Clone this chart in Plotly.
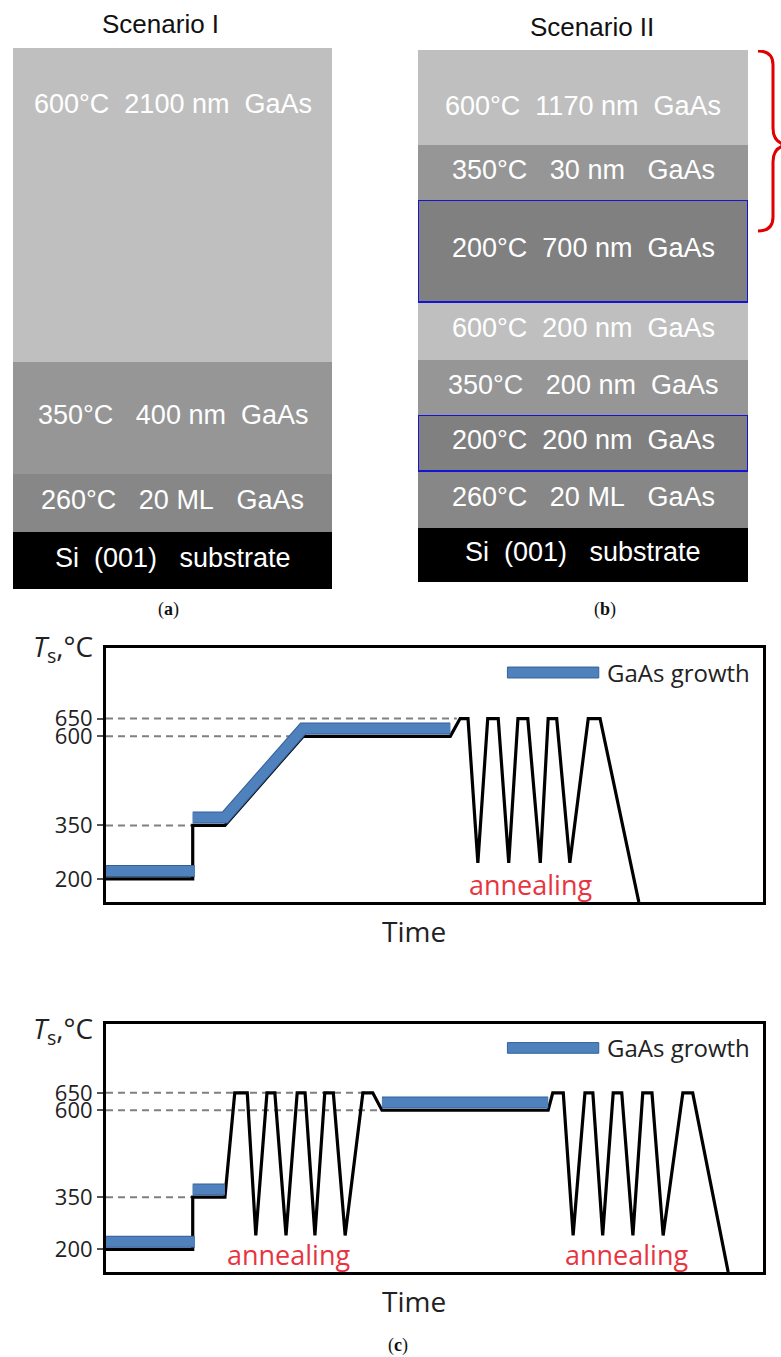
import plotly.graph_objects as go

W, H = 781, 1357

# ---------------- layer stacks (listed from the substrate upwards) ----------------
S1_LABELS = ["Si  (001)   substrate", "260°C   20 ML   GaAs",
             "350°C   400 nm  GaAs", "600°C  2100 nm  GaAs"]
S1_TEMPS = [None, 260, 350, 600]
S1_HEIGHTS = [57, 58, 112, 314]          # schematic layer heights (not to scale)

S2_LABELS = ["Si  (001)   substrate", "260°C   20 ML   GaAs",
             "200°C  200 nm  GaAs", "350°C   200 nm  GaAs",
             "600°C  200 nm  GaAs", "200°C  700 nm  GaAs",
             "350°C   30 nm   GaAs", "600°C  1170 nm  GaAs"]
S2_TEMPS = [None, 260, 200, 350, 600, 200, 350, 600]
S2_HEIGHTS = [54, 57, 56, 55, 58, 102, 55, 95]

# ---------------- substrate temperature profiles ----------------
TEMP_TICKS = [200, 350, 600, 650]
T_MIN, T_MAX = 135, 848

P1_TIME = [0, 13.2, 13.2, 18.1, 30.0, 52.4, 53.9, 55.1, 56.6, 58.1, 59.7, 61.3,
           62.7, 64.2, 66.1, 67.3, 68.6, 70.6, 73.4, 75.2, 81.1]
P1_TEMP = [200, 200, 350, 350, 600, 600, 650, 650, 245, 650, 650, 245,
           650, 650, 245, 650, 650, 245, 650, 650, 135]
G1_TIME = [0, 13.5, None, 13.2, 18.1, 30.0, 52.4]
G1_TEMP = [200, 200, None, 350, 350, 600, 600]
D1_LEVELS = [650, 600, 350]
D1_END = [53.4, 28.0, 13.2]
A1_TIME = [64.6]

P2_TIME = [0, 13.2, 13.2, 18.1, 19.6, 21.5, 22.8, 24.5, 25.7, 27.4, 29.1, 30.3,
           31.8, 33.3, 34.6, 36.4, 39.1, 40.6, 42.0, 67.3, 68.0, 69.6, 71.1,
           72.9, 74.1, 75.6, 77.2, 78.5, 80.2, 81.7, 83.1, 84.8, 87.8, 89.3, 94.7]
P2_TEMP = [200, 200, 350, 350, 650, 650, 240, 650, 650, 240, 650, 650,
           240, 650, 650, 240, 650, 650, 600, 600, 650, 650, 240,
           650, 650, 240, 650, 650, 240, 650, 650, 240, 650, 650, 135]
G2_TIME = [0, 13.5, None, 13.2, 18.1, None, 42.0, 67.3]
G2_TEMP = [200, 200, None, 350, 350, None, 600, 600]
D2_LEVELS = [650, 600, 350]
D2_END = [40.6, 42.0, 13.2]
A2_TIME = [27.8, 79.2]

# ---------------- styles ----------------
LAYER_COLOR = {None: "#000000", 200: "#808080", 260: "#878787",
               350: "#969696", 600: "#BFBFBF"}
LT_OUTLINE = "#1414D2"
BLUE, BLUE_EDGE = "#4F81BD", "#34609A"
GROWTH_LIFT = 22            # lift of the growth band above the profile line
SANS = "Liberation Sans, Arial, sans-serif"
HUMAN = "Open Sans, Lato, sans-serif"
SERIF = "Liberation Serif, DejaVu Serif, serif"


def px_x(p):
    return p / W


def px_y(p):
    return 1 - p / H


fig = go.Figure()
annotations = []
shapes = []


def note(**kw):
    kw.setdefault("showarrow", False)
    kw.setdefault("xanchor", "center")
    kw.setdefault("yanchor", "middle")
    annotations.append(kw)


def add_stack(labels, temps, heights, xa, ya):
    bases, acc = [], 0
    for h in heights:
        bases.append(acc)
        acc += h
    fig.add_trace(go.Bar(
        x=[0] * len(heights), y=heights, base=bases, width=1,
        marker=dict(color=[LAYER_COLOR[t] for t in temps],
                    line=dict(color=[LT_OUTLINE if t == 200 else "rgba(0,0,0,0)" for t in temps],
                              width=[2 if t == 200 else 0 for t in temps])),
        xaxis=xa, yaxis=ya, hoverinfo="skip", showlegend=False))
    for i, (lab, b, h) in enumerate(zip(labels, bases, heights)):
        top_layer = i == len(heights) - 1
        note(x=0, y=acc if top_layer else b + h / 2, xref=xa, yref=ya,
             text=lab.replace(" ", "\u00a0"), yshift=-56 if top_layer else 3,
             font=dict(family=SANS, size=27, color="#FFFFFF"))
    return acc


tot1 = add_stack(S1_LABELS, S1_TEMPS, S1_HEIGHTS, "x", "y")
tot2 = add_stack(S2_LABELS, S2_TEMPS, S2_HEIGHTS, "x2", "y2")


def add_profile(ptime, ptemp, gtime, gtemp, dlev, dend, atimes, xa, ya, ts_shift):
    for lev, end in zip(dlev, dend):
        fig.add_trace(go.Scatter(x=[0, end], y=[lev, lev], mode="lines",
                                 line=dict(color="#808080", width=2, dash="7px,5px"),
                                 xaxis=xa, yaxis=ya, hoverinfo="skip", showlegend=False))
    fig.add_trace(go.Scatter(x=ptime, y=ptemp, mode="lines",
                             line=dict(color="#000000", width=3.2),
                             xaxis=xa, yaxis=ya, hoverinfo="skip", showlegend=False))
    lifted = [None if t is None else t + GROWTH_LIFT for t in gtemp]
    fig.add_trace(go.Scatter(x=gtime, y=lifted, mode="lines",
                             line=dict(color=BLUE_EDGE, width=12),
                             xaxis=xa, yaxis=ya, hoverinfo="skip", showlegend=False))
    fig.add_trace(go.Scatter(x=gtime, y=lifted, mode="lines",
                             line=dict(color=BLUE, width=10),
                             xaxis=xa, yaxis=ya, hoverinfo="skip", showlegend=False))
    for t in atimes:
        note(x=t, y=184, xref=xa, yref=ya, text="annealing",
             font=dict(family=HUMAN, size=27, color="#E8343F"))
    dx, dy = xa + " domain", ya + " domain"
    shapes.append(dict(type="rect", xref=dx, yref=dy, x0=0.611, x1=0.750,
                       y0=0.882, y1=0.925, fillcolor=BLUE,
                       line=dict(color=BLUE_EDGE, width=1)))
    note(x=0.760, y=0.905, xref=dx, yref=dy, text="GaAs growth", xanchor="left",
         font=dict(family=HUMAN, size=24, color="#222222"))
    note(x=0.469, y=0, xref=dx, yref=dy, text="Time", yshift=-29,
         font=dict(family=HUMAN, size=28, color="#222222"))
    note(x=px_x(31), y=1, xref="paper", yref=dy, text="<i>T</i><sub>s</sub>,°C",
         xanchor="left", yshift=ts_shift,
         font=dict(family=HUMAN, size=28, color="#222222"))


add_profile(P1_TIME, P1_TEMP, G1_TIME, G1_TEMP, D1_LEVELS, D1_END, A1_TIME, "x3", "y3", 0)
add_profile(P2_TIME, P2_TEMP, G2_TIME, G2_TEMP, D2_LEVELS, D2_END, A2_TIME, "x4", "y4", -6)


# curly brace beside the upper part of the second stack
def bx(p):
    return f"{px_x(p):.5f}"


def by(p):
    return f"{582 - p:.2f}"


brace = (f"M {bx(758)},{by(51)} Q {bx(773)},{by(51)} {bx(773)},{by(65)} "
         f"L {bx(773)},{by(128)} Q {bx(773)},{by(143)} {bx(787)},{by(145)} "
         f"Q {bx(773)},{by(147)} {bx(773)},{by(162)} L {bx(773)},{by(217)} "
         f"Q {bx(773)},{by(231)} {bx(758)},{by(231)}")
shapes.append(dict(type="path", path=brace, xref="paper", yref="y2",
                   line=dict(color="#E00000", width=3)))

# titles and panel letters
note(x=px_x(160), y=px_y(24), xref="paper", yref="paper", text="Scenario I",
     font=dict(family=SANS, size=26, color="#111111"))
note(x=px_x(592), y=px_y(27), xref="paper", yref="paper", text="Scenario II",
     font=dict(family=SANS, size=26, color="#111111"))
note(x=px_x(168), y=px_y(610), xref="paper", yref="paper", text="(<b>a</b>)",
     font=dict(family=SERIF, size=18, color="#111111"))
note(x=px_x(605), y=px_y(610), xref="paper", yref="paper", text="(<b>b</b>)",
     font=dict(family=SERIF, size=18, color="#111111"))
note(x=px_x(398), y=px_y(1345), xref="paper", yref="paper", text="(<b>c</b>)",
     font=dict(family=SERIF, size=18, color="#111111"))

hidden = dict(showgrid=False, zeroline=False, showticklabels=False, ticks="",
              showline=False, fixedrange=True)
time_axis = dict(range=[0, 100], showgrid=False, zeroline=False, showticklabels=False,
                 ticks="", showline=True, mirror=True, linecolor="#000000", linewidth=3)
temp_axis = dict(range=[T_MIN, T_MAX], tickvals=TEMP_TICKS,
                 ticktext=[str(t) for t in TEMP_TICKS], ticks="outside", ticklen=6,
                 tickwidth=1.5, tickcolor="#555555", showgrid=False, zeroline=False,
                 showline=True, mirror=True, linecolor="#000000", linewidth=3,
                 tickfont=dict(family=HUMAN, size=22, color="#222222"))

fig.update_layout(
    width=W, height=H, margin=dict(l=0, r=0, t=0, b=0),
    paper_bgcolor="#FFFFFF", plot_bgcolor="#FFFFFF", barmode="overlay",
    showlegend=False,
    xaxis=dict(domain=[px_x(13), px_x(332)], range=[-0.5, 0.5], **hidden),
    yaxis=dict(domain=[px_y(589), px_y(48)], range=[0, tot1], **hidden),
    xaxis2=dict(domain=[px_x(418), px_x(748)], range=[-0.5, 0.5], **hidden),
    yaxis2=dict(domain=[px_y(582), px_y(50)], range=[0, tot2], **hidden),
    xaxis3=dict(domain=[px_x(106), px_x(763)], anchor="y3", **time_axis),
    yaxis3=dict(domain=[px_y(902), px_y(648)], anchor="x3", **temp_axis),
    xaxis4=dict(domain=[px_x(106), px_x(763)], anchor="y4", **time_axis),
    yaxis4=dict(domain=[px_y(1272), px_y(1024)], anchor="x4", **temp_axis),
    annotations=annotations, shapes=shapes,
)

fig.write_html("out.html")
